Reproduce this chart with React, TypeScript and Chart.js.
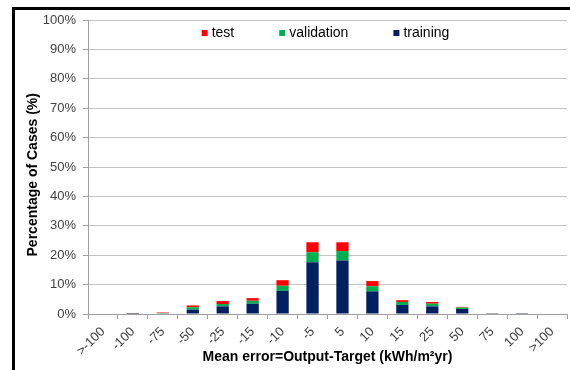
import React, { useEffect, useRef } from 'react';
import { Chart, registerables } from 'chart.js';

Chart.register(...registerables);

const categories = ['>-100', '-100', '-75', '-50', '-25', '-15', '-10', '-5', '5', '10', '15', '25', '50', '75', '100', '>100'];
const training = [0, 0.05, 0.2, 1.5, 2.6, 3.5, 7.9, 17.6, 18.2, 7.7, 3.1, 2.6, 1.7, 0.1, 0.05, 0];
const validation = [0, 0.05, 0.1, 0.8, 0.8, 1.0, 1.7, 3.4, 3.2, 1.7, 1.0, 0.9, 0.5, 0.05, 0.02, 0];
const test = [0, 0.1, 0.2, 0.6, 1.0, 0.9, 1.9, 3.4, 3.0, 1.8, 0.6, 0.6, 0.2, 0.05, 0.02, 0];
const legendOrder = ['test', 'validation', 'training'];

const FONT = '"Liberation Sans", Arial, sans-serif';
const COLORS: Record<string, string> = { training: '#002060', validation: '#00B050', test: '#FF0000' };

const frame = {
  id: 'frame',
  afterDraw(chart: any) {
    const { ctx } = chart;
    ctx.save();
    ctx.fillStyle = '#000';
    ctx.fillRect(12, 7, chart.width - 12, 3);
    ctx.fillRect(12, 7, 3, chart.height - 7);
    ctx.restore();
  },
};

const insideLegend = {
  id: 'insideLegend',
  afterDraw(chart: any) {
    const { ctx, chartArea } = chart;
    ctx.save();
    ctx.font = `14px ${FONT}`;
    const box = 6;
    const gapText = 4;
    const gap = 45;
    const items = legendOrder.map((name) => {
      const ds = chart.data.datasets.find((d: any) => d.label === name);
      return { label: name, color: ds.backgroundColor, w: box + gapText + ctx.measureText(name).width };
    });
    const total = items.reduce((s: number, it: any) => s + it.w, 0) + gap * (items.length - 1);
    let x = (chartArea.left + chartArea.right) / 2 - total / 2 - 2;
    const y = chartArea.top + 13;
    ctx.textBaseline = 'middle';
    ctx.textAlign = 'left';
    for (const it of items) {
      ctx.fillStyle = it.color;
      ctx.fillRect(x, y - 3, box, box);
      ctx.fillStyle = '#000';
      ctx.fillText(it.label, x + box + gapText, y);
      x += it.w + gap;
    }
    ctx.restore();
  },
};

export default function App() {
  const ref = useRef<HTMLCanvasElement>(null);
  useEffect(() => {
    if (!ref.current) return;
    const chart = new Chart(ref.current, {
      type: 'bar',
      data: {
        labels: categories,
        datasets: [
          { label: 'training', data: training, backgroundColor: COLORS.training, barPercentage: 0.41, categoryPercentage: 1, borderWidth: 0 },
          { label: 'validation', data: validation, backgroundColor: COLORS.validation, barPercentage: 0.41, categoryPercentage: 1, borderWidth: 0 },
          { label: 'test', data: test, backgroundColor: COLORS.test, barPercentage: 0.41, categoryPercentage: 1, borderWidth: 0 },
        ],
      },
      options: {
        animation: false,
        responsive: false,
        maintainAspectRatio: false,
        layout: { padding: { left: 0, right: 3, top: 20, bottom: 0 } },
        plugins: { legend: { display: false }, tooltip: { enabled: false } },
        scales: {
          x: {
            stacked: true,
            grid: { display: true, drawOnChartArea: false, drawTicks: true, tickLength: 5, color: '#a0a0a0', offset: true },
            border: { color: '#a0a0a0' },
            ticks: { maxRotation: 45, minRotation: 45, autoSkip: false, padding: 5, color: '#404040', font: { family: FONT, size: 13 } },
            title: { display: true, text: 'Mean error=Output-Target (kWh/m²yr)', color: '#000', font: { family: FONT, size: 14, weight: 'bold' }, padding: { top: 0, bottom: 4 } },
            afterFit: (s: any) => { s.height = 56; },
          },
          y: {
            stacked: true,
            min: 0,
            max: 100,
            ticks: { stepSize: 10, callback: (v: any) => v + '%', padding: 7, color: '#404040', font: { family: FONT, size: 13 } },
            grid: { color: '#c4c4c4', tickLength: 5, tickColor: '#a0a0a0' },
            border: { color: '#a0a0a0' },
            title: { display: true, text: 'Percentage of Cases (%)    ', color: '#000', font: { family: FONT, size: 14, weight: 'bold' }, padding: { top: 25, bottom: 0 } },
            afterFit: (s: any) => { s.width = 88; },
          },
        },
      },
      plugins: [insideLegend, frame],
    } as any);
    return () => chart.destroy();
  }, []);
  return (
    <div style={{ position: 'absolute', left: 0, top: 0, width: 570, height: 370, overflow: 'hidden', background: '#fff' }}>
      <canvas ref={ref} width={570} height={370} style={{ position: 'absolute', left: 0, top: 0, display: 'block' }} />
    </div>
  );
}
